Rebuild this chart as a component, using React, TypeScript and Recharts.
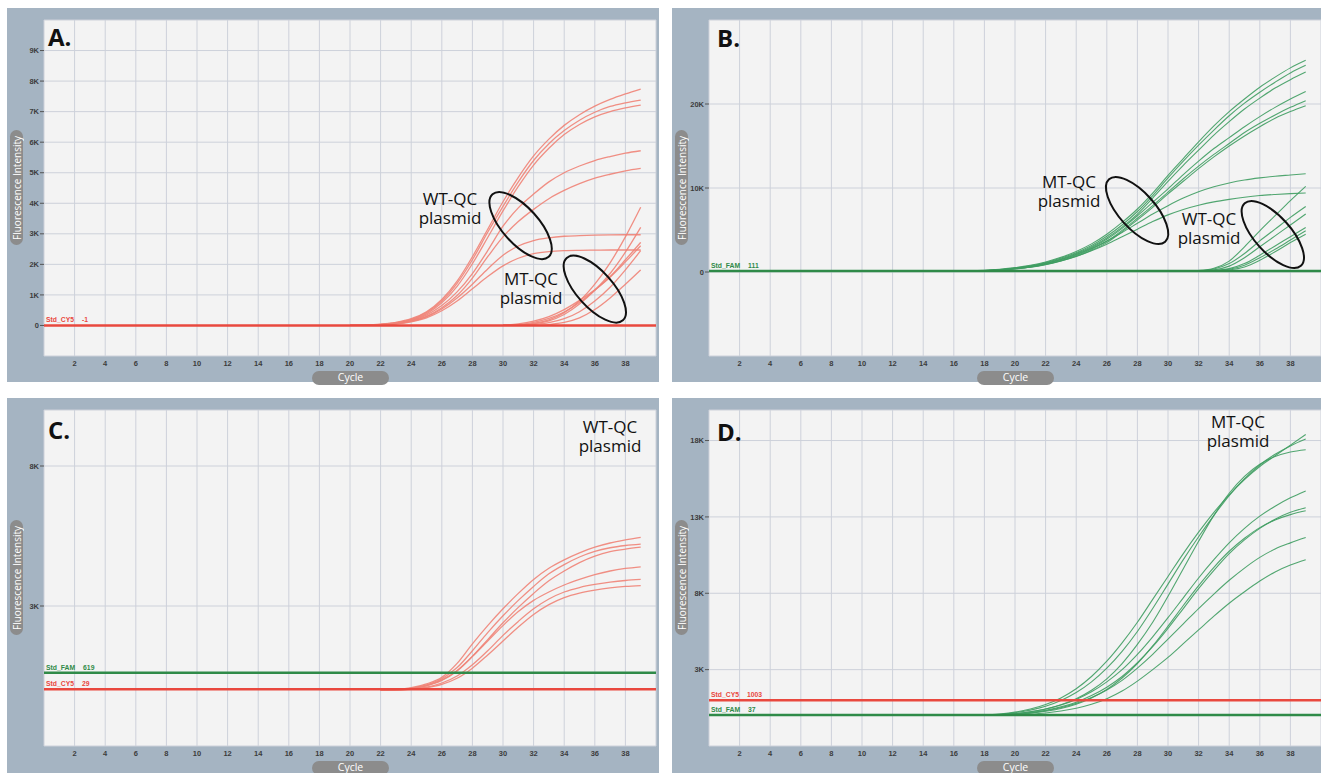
import React from "react";
import { LineChart, Line, XAxis, YAxis, CartesianGrid, ReferenceLine, ReferenceDot } from "recharts";

type Curve = { from: number; v: number[] };

// shared x axis (cycles)
const cycleTicks = [2, 4, 6, 8, 10, 12, 14, 16, 18, 20, 22, 24, 26, 28, 30, 32, 34, 36, 38];

// A. CY5 channel
const aTicks = [0, 1000, 2000, 3000, 4000, 5000, 6000, 7000, 8000, 9000];
const aWT: Curve[] = [
  { from: 20, v: [0, 10, 40, 100, 220, 450, 850, 1450, 2250, 3150, 4050, 4850, 5550, 6100, 6550, 6900, 7180, 7400, 7580, 7740] },
  { from: 20, v: [0, 10, 35, 90, 200, 420, 800, 1380, 2150, 3050, 3900, 4700, 5400, 5950, 6380, 6720, 6980, 7170, 7290, 7380] },
  { from: 20, v: [0, 5, 30, 80, 180, 380, 740, 1280, 2020, 2880, 3750, 4550, 5250, 5800, 6250, 6580, 6830, 7000, 7120, 7210] },
  { from: 20, v: [0, 5, 25, 70, 160, 340, 650, 1100, 1700, 2450, 3250, 3850, 4300, 4700, 5000, 5220, 5400, 5530, 5640, 5720] },
  { from: 20, v: [0, 5, 20, 60, 140, 300, 580, 980, 1550, 2250, 2900, 3400, 3800, 4150, 4420, 4640, 4820, 4950, 5060, 5140] },
  { from: 20, v: [0, 5, 20, 55, 130, 280, 540, 900, 1350, 1850, 2300, 2600, 2780, 2870, 2920, 2940, 2955, 2965, 2970, 2970] },
  { from: 20, v: [0, 5, 18, 50, 120, 250, 480, 800, 1200, 1600, 1950, 2200, 2350, 2420, 2450, 2460, 2465, 2470, 2470, 2470] },
];
const aMT: Curve[] = [
  { from: 30, v: [0, 20, 70, 180, 420, 800, 1350, 2050, 2900, 3870] },
  { from: 30, v: [0, 10, 50, 150, 360, 700, 1150, 1700, 2400, 3210] },
  { from: 30, v: [0, 30, 100, 230, 440, 750, 1150, 1600, 2150, 2720] },
  { from: 30, v: [10, 50, 140, 290, 520, 820, 1170, 1580, 2080, 2610] },
  { from: 30, v: [0, 0, 30, 90, 220, 450, 800, 1250, 1820, 2450] },
  { from: 30, v: [0, 0, 0, 30, 100, 250, 520, 900, 1350, 1820] },
];

// B. FAM channel
const bTicks = [0, 10000, 20000];
const bMT: Curve[] = [
  { from: 16, v: [100, 130, 200, 330, 520, 800, 1200, 1750, 2450, 3350, 4500, 5900, 7500, 9400, 11500, 13500, 15500, 17400, 19100, 20600, 22000, 23200, 24300, 25200] },
  { from: 16, v: [100, 120, 180, 300, 480, 740, 1120, 1650, 2300, 3150, 4250, 5600, 7200, 9100, 11200, 13200, 15100, 16900, 18600, 20100, 21400, 22600, 23700, 24600] },
  { from: 16, v: [100, 115, 160, 270, 440, 680, 1050, 1550, 2200, 3000, 4050, 5350, 6900, 8800, 10800, 12700, 14500, 16300, 17900, 19400, 20700, 21900, 22900, 23800] },
  { from: 16, v: [100, 115, 150, 250, 420, 650, 1000, 1480, 2100, 2900, 3900, 5200, 6700, 8300, 9900, 11600, 13200, 14700, 16000, 17300, 18500, 19600, 20600, 21500] },
  { from: 16, v: [100, 110, 140, 230, 390, 600, 930, 1380, 1970, 2720, 3650, 4950, 6400, 7900, 9500, 11100, 12600, 14000, 15300, 16600, 17700, 18700, 19600, 20400] },
  { from: 16, v: [100, 110, 130, 210, 360, 560, 870, 1300, 1870, 2600, 3500, 4800, 6200, 7700, 9300, 10800, 12300, 13700, 15000, 16200, 17300, 18300, 19100, 19800] },
  { from: 16, v: [100, 115, 150, 250, 420, 650, 1000, 1450, 2050, 2800, 3700, 4700, 5800, 6900, 7900, 8800, 9550, 10150, 10600, 10950, 11200, 11400, 11550, 11700] },
  { from: 16, v: [100, 110, 140, 230, 380, 580, 900, 1320, 1850, 2520, 3300, 4200, 5100, 6000, 6800, 7450, 7950, 8350, 8650, 8900, 9100, 9230, 9330, 9400] },
];
const bWT: Curve[] = [
  { from: 31, v: [100, 180, 450, 1300, 3000, 4900, 6700, 8500, 10200] },
  { from: 31, v: [100, 140, 350, 1000, 2200, 3700, 5100, 6500, 7800] },
  { from: 31, v: [100, 120, 250, 700, 1700, 3000, 4300, 5600, 6900] },
  { from: 31, v: [100, 110, 170, 400, 1000, 2000, 3100, 4200, 5300] },
  { from: 31, v: [100, 105, 140, 320, 800, 1700, 2700, 3800, 4900] },
  { from: 31, v: [100, 100, 120, 240, 600, 1400, 2400, 3500, 4500] },
];

// C. WT-QC plasmid, CY5 curves
const cTicks = [3000, 8000];
const cWT: Curve[] = [
  { from: 22, v: [0, 20, 80, 220, 450, 950, 1650, 2300, 2900, 3450, 3950, 4350, 4650, 4900, 5100, 5250, 5360, 5450] },
  { from: 22, v: [0, 10, 60, 180, 400, 800, 1400, 2050, 2650, 3200, 3700, 4150, 4480, 4750, 4950, 5080, 5160, 5210] },
  { from: 22, v: [0, 10, 50, 150, 340, 680, 1200, 1800, 2400, 2950, 3450, 3900, 4250, 4550, 4780, 4940, 5030, 5100] },
  { from: 22, v: [0, 10, 50, 160, 360, 700, 1200, 1750, 2300, 2800, 3200, 3500, 3750, 3950, 4120, 4250, 4340, 4400] },
  { from: 22, v: [0, 5, 30, 100, 250, 500, 900, 1400, 1950, 2450, 2900, 3250, 3500, 3660, 3770, 3850, 3910, 3950] },
  { from: 22, v: [0, 0, 20, 80, 200, 420, 780, 1250, 1750, 2250, 2700, 3050, 3300, 3460, 3570, 3650, 3700, 3730] },
];

// D. MT-QC plasmid, FAM curves
const dTicks = [3000, 8000, 13000, 18000];
const dMT: Curve[] = [
  { from: 17, v: [0, 30, 100, 220, 420, 720, 1150, 1750, 2550, 3550, 4750, 6100, 7600, 9100, 10600, 12000, 13300, 14450, 15450, 16300, 17000, 17700, 18400] },
  { from: 17, v: [0, 20, 80, 180, 350, 600, 980, 1500, 2200, 3100, 4200, 5500, 7000, 8600, 10200, 11700, 13100, 14400, 15500, 16400, 17100, 17650, 18100] },
  { from: 17, v: [0, 10, 50, 120, 240, 420, 700, 1100, 1650, 2400, 3400, 4650, 6100, 7800, 9600, 11400, 13100, 14550, 15650, 16450, 16950, 17250, 17400] },
  { from: 17, v: [0, 10, 50, 120, 240, 420, 680, 1050, 1550, 2200, 3000, 4000, 5150, 6400, 7700, 9000, 10200, 11300, 12250, 13050, 13700, 14250, 14700] },
  { from: 17, v: [0, 5, 30, 90, 190, 340, 560, 870, 1300, 1850, 2550, 3450, 4500, 5700, 7000, 8300, 9500, 10600, 11500, 12250, 12850, 13300, 13600] },
  { from: 17, v: [0, 0, 20, 60, 140, 270, 460, 740, 1150, 1700, 2450, 3400, 4550, 5850, 7200, 8500, 9700, 10750, 11600, 12300, 12800, 13150, 13400] },
  { from: 17, v: [0, 5, 30, 80, 170, 310, 510, 790, 1170, 1670, 2300, 3100, 4000, 5000, 6000, 7000, 7950, 8850, 9650, 10350, 10900, 11300, 11650] },
  { from: 17, v: [0, 0, 0, 30, 80, 160, 290, 470, 730, 1100, 1600, 2250, 3000, 3800, 4700, 5600, 6500, 7350, 8100, 8800, 9400, 9850, 10200] },
];

const RED = "#e9483e";
const GREEN = "#2f8a48";
const RED_CURVE = "#f08377";
const GREEN_CURVE = "#3f9d62";
const FRAME = "#a5b4c2";
const TICK = { fontSize: 7.5, fill: "#3c3c3c", fontFamily: "Liberation Sans, Arial", fontWeight: 600 };

const fmtK = (v: number) => (v === 0 ? "0" : `${v / 1000}K`);
const toPoints = (c: Curve) => c.v.map((v, i) => ({ c: c.from + i, v }));

function ThreshLabel(props: any) {
  const { viewBox, name, val, color } = props;
  if (!viewBox) return null;
  return (
    <text x={viewBox.x + 2} y={viewBox.y - 3} fill={color} fontSize={6.8} fontWeight="bold" fontFamily="Liberation Sans, Arial">
      {name}
      <tspan dx={8}>{val}</tspan>
    </text>
  );
}

const ring = (p: any) => (
  <ellipse cx={p.cx} cy={p.cy} rx={42} ry={18} transform={`rotate(48 ${p.cx} ${p.cy})`} fill="none" stroke="#111" strokeWidth={2} />
);

interface Thresh { y: number; name: string; val: string; color: string }
interface Note { x: number; y: number; text: string }
interface PanelProps {
  left: number;
  top: number;
  height: number;
  letter: string;
  letterAt: [number, number];
  yDomain: [number, number];
  yTicks: number[];
  groups: { curves: Curve[]; color: string; width: number }[];
  thresholds: Thresh[];
  rings: { c: number; v: number }[];
  notes: Note[];
}

function Panel(p: PanelProps) {
  return (
    <div style={{ position: "absolute", left: p.left, top: p.top, width: 652, height: p.height, background: FRAME }}>
      <LineChart width={652} height={374} margin={{ top: 12, right: 3, bottom: 0, left: 0 }}>
        <CartesianGrid stroke="#cdd1da" fill="#f3f3f3" />
        <XAxis
          type="number"
          dataKey="c"
          domain={[0, 40]}
          ticks={cycleTicks}
          height={26}
          tickLine={false}
          axisLine={false}
          tickSize={4}
          tickMargin={1}
          tick={TICK}
          allowDataOverflow
        />
        <YAxis
          type="number"
          domain={p.yDomain}
          ticks={p.yTicks}
          tickFormatter={fmtK}
          width={37}
          axisLine={false}
          tickSize={4}
          tickMargin={1}
          tickLine={{ stroke: "#555" }}
          tick={TICK}
          allowDataOverflow
        />
        {p.groups.map((g, gi) =>
          g.curves.map((c, i) => (
            <Line
              key={`${gi}-${i}`}
              data={toPoints(c)}
              dataKey="v"
              type="monotone"
              stroke={g.color}
              strokeWidth={g.width}
              strokeOpacity={0.9}
              dot={false}
              activeDot={false}
              isAnimationActive={false}
            />
          ))
        )}
        {p.thresholds.map((t) => (
          <ReferenceLine
            key={t.name}
            y={t.y}
            stroke={t.color}
            strokeWidth={2.5}
            label={<ThreshLabel name={t.name} val={t.val} color={t.color} />}
          />
        ))}
        {p.rings.map((r, i) => (
          <ReferenceDot key={i} x={r.c} y={r.v} r={1} shape={ring} />
        ))}
      </LineChart>
      <div
        style={{
          position: "absolute", left: 3, top: 122, width: 13, height: 115, borderRadius: 7, background: "#8c8c8c",
          display: "flex", alignItems: "center", justifyContent: "center",
        }}
      >
        <span style={{ writingMode: "vertical-rl", transform: "rotate(180deg)", color: "#fff", fontSize: 10, fontFamily: "Open Sans", whiteSpace: "nowrap" }}>
          Fluorescence Intensity
        </span>
      </div>
      <div
        style={{
          position: "absolute", left: 305, top: 363, width: 77, height: 14, borderRadius: 7, background: "#8c8c8c",
          color: "#fff", fontSize: 10.5, fontFamily: "Open Sans", textAlign: "center", lineHeight: "13px",
        }}
      >
        Cycle
      </div>
      <div
        style={{
          position: "absolute", left: p.letterAt[0], top: p.letterAt[1], fontSize: 24, lineHeight: 1, fontWeight: 700,
          fontFamily: "Open Sans", color: "#111",
        }}
      >
        {p.letter}
      </div>
      {p.notes.map((n, i) => (
        <div
          key={i}
          style={{
            position: "absolute", left: n.x - 45, top: n.y, width: 90, textAlign: "center", fontSize: 17,
            lineHeight: "19px", fontFamily: "Open Sans", color: "#111", whiteSpace: "pre",
          }}
        >
          {n.text}
        </div>
      ))}
    </div>
  );
}

export default function App() {
  return (
    <div style={{ position: "absolute", left: 0, top: 0, width: 1321, height: 773, overflow: "hidden", background: "#fff" }}>
      <Panel
        left={7}
        top={8}
        height={374}
        letter="A."
        letterAt={[41, 17]}
        yDomain={[-1000, 10000]}
        yTicks={aTicks}
        groups={[
          { curves: aWT, color: RED_CURVE, width: 1.3 },
          { curves: aMT, color: RED_CURVE, width: 1.3 },
        ]}
        thresholds={[{ y: -1, name: "Std_CY5", val: "-1", color: RED }]}
        rings={[{ c: 31.15, v: 3270 }, { c: 36.0, v: 1190 }]}
        notes={[
          { x: 443, y: 181, text: "WT-QC\nplasmid" },
          { x: 524, y: 261, text: "MT-QC\nplasmid" },
        ]}
      />
      <Panel
        left={672}
        top={8}
        height={374}
        letter="B."
        letterAt={[45, 18]}
        yDomain={[-10000, 30000]}
        yTicks={bTicks}
        groups={[
          { curves: bMT, color: GREEN_CURVE, width: 1.1 },
          { curves: bWT, color: GREEN_CURVE, width: 1.1 },
        ]}
        thresholds={[{ y: 111, name: "Std_FAM", val: "111", color: GREEN }]}
        rings={[{ c: 27.98, v: 7320 }, { c: 36.85, v: 4460 }]}
        notes={[
          { x: 397, y: 164, text: "MT-QC\nplasmid" },
          { x: 537, y: 201, text: "WT-QC\nplasmid" },
        ]}
      />
      <Panel
        left={7}
        top={398}
        height={380}
        letter="C."
        letterAt={[41, 20]}
        yDomain={[-2000, 10000]}
        yTicks={cTicks}
        groups={[{ curves: cWT, color: RED_CURVE, width: 1.3 }]}
        thresholds={[
          { y: 619, name: "Std_FAM", val: "619", color: GREEN },
          { y: 29, name: "Std_CY5", val: "29", color: RED },
        ]}
        rings={[]}
        notes={[{ x: 603, y: 19, text: "WT-QC\nplasmid" }]}
      />
      <Panel
        left={672}
        top={398}
        height={380}
        letter="D."
        letterAt={[45, 22]}
        yDomain={[-2000, 20000]}
        yTicks={dTicks}
        groups={[{ curves: dMT, color: GREEN_CURVE, width: 1.1 }]}
        thresholds={[
          { y: 1003, name: "Std_CY5", val: "1003", color: RED },
          { y: 37, name: "Std_FAM", val: "37", color: GREEN },
        ]}
        rings={[]}
        notes={[{ x: 566, y: 14, text: "MT-QC\nplasmid" }]}
      />
    </div>
  );
}
